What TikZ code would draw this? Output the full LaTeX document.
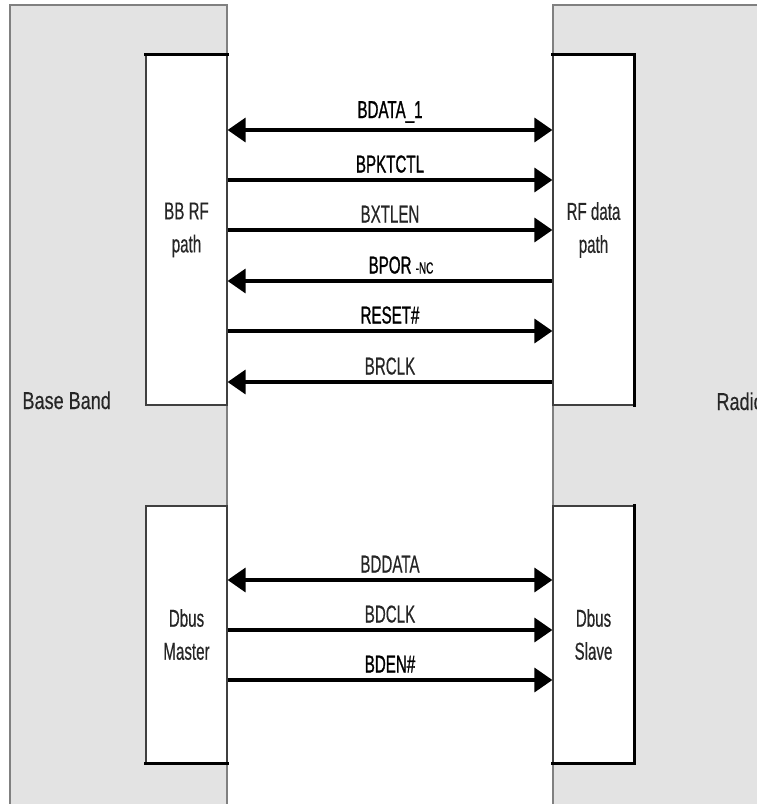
\documentclass[tikz,border=0pt]{standalone}
\usepackage{fontspec}
\setmainfont{Liberation Sans}[FakeStretch=0.62, FakeBold=0.4]
\newfontfamily\darkfont{Liberation Sans}[FakeStretch=0.62, FakeBold=1]
\newfontfamily\bandfont{Liberation Sans}[FakeStretch=0.74, FakeBold=0.4]
\usetikzlibrary{arrows.meta, positioning}

\begin{document}
\begin{tikzpicture}[x=1pt, y=-1pt,
  >={Triangle[length=18pt, width=24pt]},
  font=\fontsize{24.4}{33}\selectfont,
  band/.style={draw=black!50, line width=1.2pt, fill=black!11},
  blkbox/.style={draw=black!75, line width=1.2pt, fill=white,
    align=center, inner sep=0pt, minimum width=81pt},
  heavyedge/.style={line width=3pt, line cap=rect},
  sig/.style={line width=3.5pt},
  siglbl/.style={anchor=base, yshift=7.5pt, text=black!85}]
  \useasboundingbox (0,0) rectangle (757,804);
  \clip (0,0) rectangle (757,804);

  % Base band and radio areas
  \draw[band] (10,5) rectangle (227,830);
  \draw[band] (553,5) rectangle (790,830);
  \node[anchor=base west, text=black!85] (bbname) at (19,409)
    {\bandfont Base Band};
  \node[anchor=base west, text=black!85] (rdname) at (713,410)
    {\bandfont Radio};

  % RF data path blocks
  \node[blkbox, minimum height=350pt, text=black!85] (bbrf) at (186.5,230)
    {BB RF\\path};
  \node[blkbox, minimum height=350pt, text=black!85] (rfdp) at (593.5,230)
    {RF data\\path};
  \draw[heavyedge] (bbrf.north west) -- (bbrf.north east);
  \draw[heavyedge] (rfdp.north west) -- (rfdp.north east)
    -- (rfdp.south east);

  % Dbus blocks
  \node[blkbox, minimum height=257pt, text=black!85] (dbm) at (186.5,634.5)
    {Dbus\\Master};
  \node[blkbox, minimum height=257pt, text=black!85] (dbs) at (593.5,634.5)
    {Dbus\\Slave};
  \draw[heavyedge] (dbm.south west) -- (dbm.south east);
  \draw[heavyedge] (dbs.north east) -- (dbs.south east)
    -- (dbs.south west);

  % RF signals
  \draw[<->, sig] (bbrf.east |- 0,130) --
    node[siglbl, yshift=4.5pt, text=black] {\darkfont BDATA\_1}
    (rfdp.west |- 0,130);
  \draw[->, sig] (bbrf.east |- 0,180) --
    node[siglbl, text=black] {\darkfont BPKTCTL} (rfdp.west |- 0,180);
  \draw[->, sig] (bbrf.east |- 0,230) --
    node[siglbl] {BXTLEN} (rfdp.west |- 0,230);
  \draw[<-, sig] (bbrf.east |- 0,281) --
    node[siglbl, xshift=11pt, text=black] {\darkfont BPOR
      {\fontsize{16}{16}\selectfont -NC}} (rfdp.west |- 0,281);
  \draw[->, sig] (bbrf.east |- 0,331) --
    node[siglbl, text=black] {\darkfont RESET\#} (rfdp.west |- 0,331);
  \draw[<-, sig] (bbrf.east |- 0,382) --
    node[siglbl] {BRCLK} (rfdp.west |- 0,382);

  % Dbus signals
  \draw[<->, sig] (dbm.east |- 0,580) --
    node[siglbl] {BDDATA} (dbs.west |- 0,580);
  \draw[->, sig] (dbm.east |- 0,630) --
    node[siglbl] {BDCLK} (dbs.west |- 0,630);
  \draw[->, sig] (dbm.east |- 0,680) --
    node[siglbl, text=black] {\darkfont BDEN\#} (dbs.west |- 0,680);
\end{tikzpicture}
\end{document}
